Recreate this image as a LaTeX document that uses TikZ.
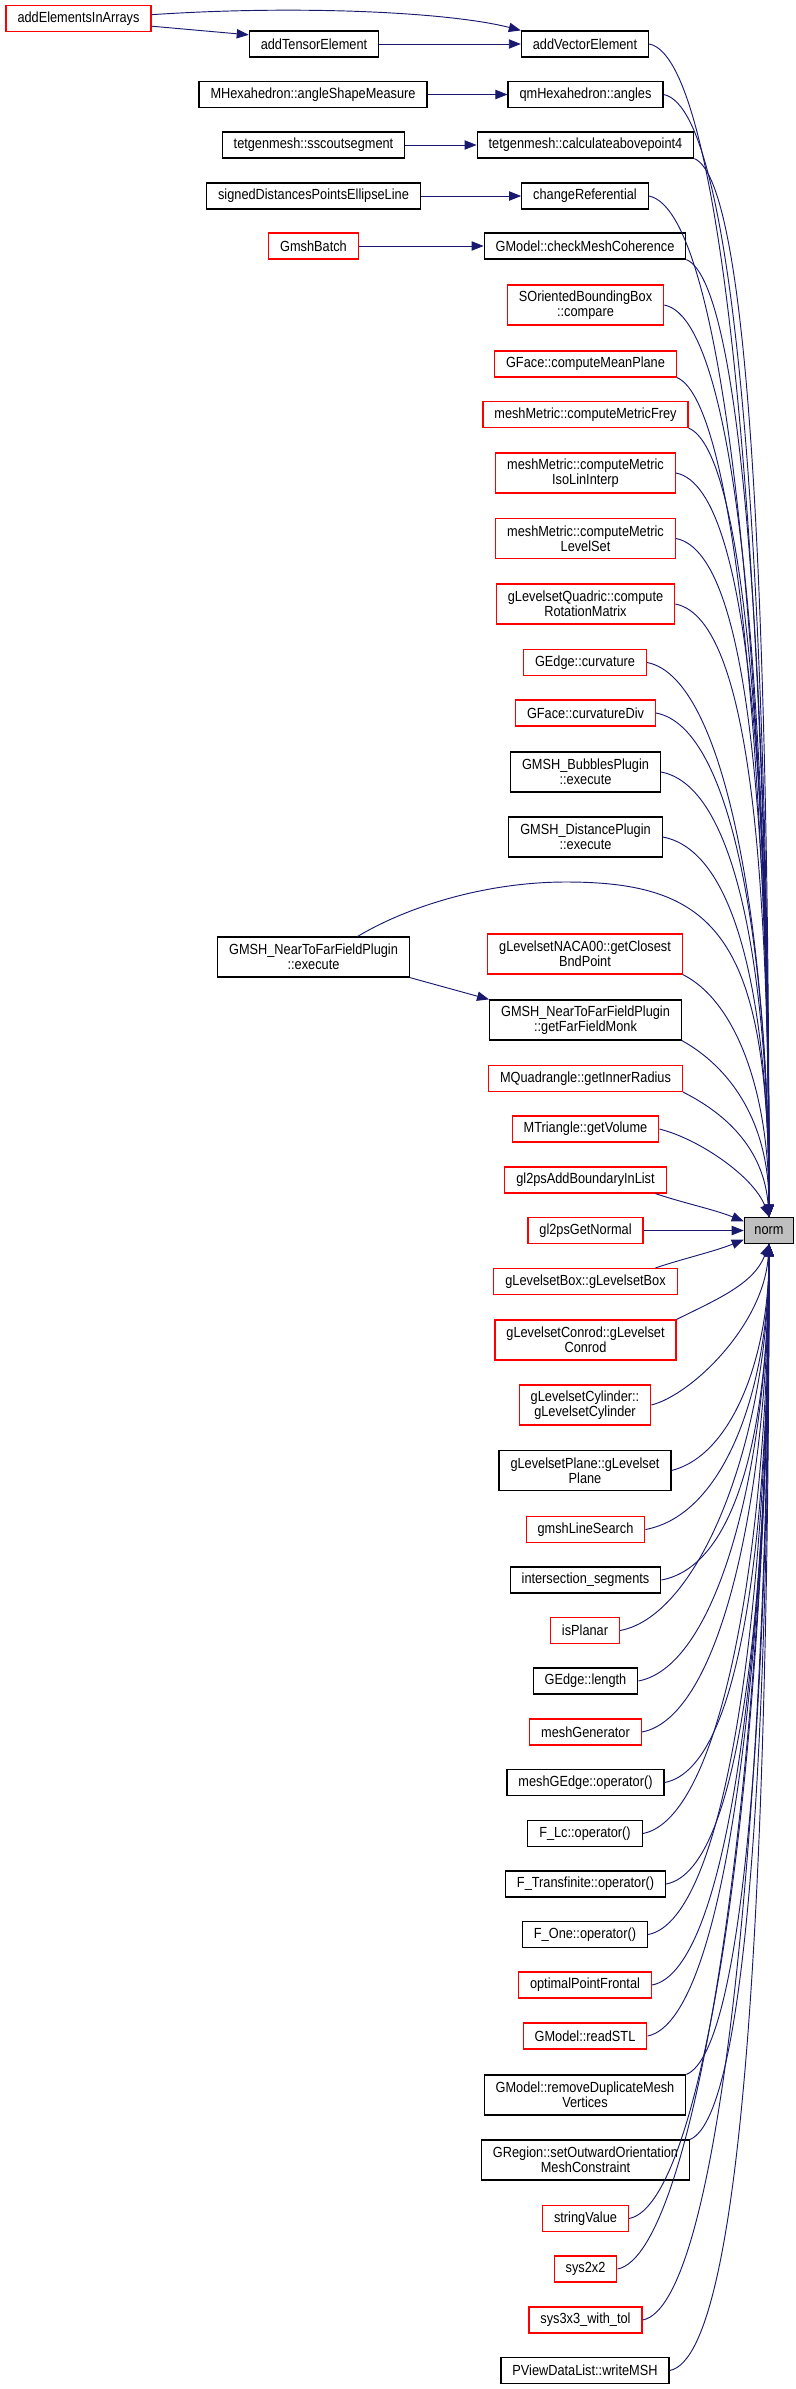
\documentclass[tikz,border=0pt]{standalone}
\usepackage{fontspec}
\setmainfont{Liberation Sans}[FakeStretch=0.87]
\usetikzlibrary{arrows.meta}
\definecolor{edgeblue}{RGB}{25,25,112}
\definecolor{normgray}{RGB}{191,191,191}
\begin{document}
\begin{tikzpicture}[x=0.75pt,y=-0.75pt,>={Triangle[length=9pt,width=7pt]},
  font=\fontsize{11}{11}\selectfont,
  callerbox/.style={draw=black,line width=0.9pt,rectangle,inner xsep=8.6pt,inner ysep=2pt,minimum height=19.5pt,align=center},
  redbox/.style={callerbox,draw=red},
  twol/.style={minimum height=30pt},
  callarrow/.style={->,draw=edgeblue,line width=0.7pt}]
\useasboundingbox (0,0) rectangle (796,2389);

\node[redbox] (aeia) at (78.5,18.5) {addElementsInArrays};
\node[callerbox] (ate) at (314,44) {addTensorElement};
\node[callerbox] (ave) at (585,44) {addVectorElement};
\node[callerbox] (asm) at (313,94.5) {MHexahedron::angleShapeMeasure};
\node[callerbox] (qang) at (585.5,94.5) {qmHexahedron::angles};
\node[callerbox] (sscout) at (313.5,145) {tetgenmesh::sscoutsegment};
\node[callerbox] (calcabove) at (585.5,145) {tetgenmesh::calculateabovepoint4};
\node[callerbox] (sdpel) at (313.5,196) {signedDistancesPointsEllipseLine};
\node[callerbox] (chref) at (585,196) {changeReferential};
\node[redbox] (gbatch) at (313.5,246) {GmshBatch};
\node[callerbox] (chkmc) at (585,246) {GModel::checkMeshCoherence};
\node[redbox,twol] (sobb) at (585.5,305) {SOrientedBoundingBox\\::compare};
\node[redbox] (cmp) at (585.5,364) {GFace::computeMeanPlane};
\node[redbox] (cmf) at (585.5,414.5) {meshMetric::computeMetricFrey};
\node[redbox,twol] (cmili) at (585.5,473) {meshMetric::computeMetric\\IsoLinInterp};
\node[redbox,twol] (cmls) at (585.5,538.5) {meshMetric::computeMetric\\LevelSet};
\node[redbox,twol] (crm) at (585.5,604) {gLevelsetQuadric::compute\\RotationMatrix};
\node[redbox] (gecurv) at (585,662.5) {GEdge::curvature};
\node[redbox] (gfcdiv) at (585.5,713) {GFace::curvatureDiv};
\node[callerbox,twol] (bubbles) at (585.5,772) {GMSH\_BubblesPlugin\\::execute};
\node[callerbox,twol] (distpl) at (585.5,837) {GMSH\_DistancePlugin\\::execute};
\node[callerbox,twol] (nfe) at (313.5,957) {GMSH\_NearToFarFieldPlugin\\::execute};
\node[redbox,twol] (naca) at (585,954) {gLevelsetNACA00::getClosest\\BndPoint};
\node[callerbox,twol] (gffm) at (585.5,1020) {GMSH\_NearToFarFieldPlugin\\::getFarFieldMonk};
\node[redbox] (mqir) at (585.5,1078.5) {MQuadrangle::getInnerRadius};
\node[redbox] (mtgv) at (585.5,1129) {MTriangle::getVolume};
\node[redbox] (gl2abl) at (585.5,1180) {gl2psAddBoundaryInList};
\node[redbox] (gl2gn) at (585.5,1230.5) {gl2psGetNormal};
\node[callerbox,fill=normgray,minimum width=37pt,inner xsep=4pt] (norm) at (769,1230.5) {norm};
\node[redbox] (glbox) at (585.5,1281.5) {gLevelsetBox::gLevelsetBox};
\node[redbox,twol] (glconrod) at (585.5,1340) {gLevelsetConrod::gLevelset\\Conrod};
\node[redbox,twol] (glcyl) at (585,1405) {gLevelsetCylinder::\\gLevelsetCylinder};
\node[callerbox,twol] (glplane) at (585,1470.5) {gLevelsetPlane::gLevelset\\Plane};
\node[redbox] (lsearch) at (585.5,1529.5) {gmshLineSearch};
\node[callerbox] (isect) at (585.5,1580) {intersection\_segments};
\node[redbox] (isplanar) at (585,1630.5) {isPlanar};
\node[callerbox] (gelen) at (585.5,1681) {GEdge::length};
\node[redbox] (meshgen) at (585.5,1732) {meshGenerator};
\node[callerbox] (mgeop) at (585.5,1782.5) {meshGEdge::operator()};
\node[callerbox] (flc) at (585,1833.5) {F\_Lc::operator()};
\node[callerbox] (ftrans) at (585.5,1884) {F\_Transfinite::operator()};
\node[callerbox] (fone) at (585,1934.5) {F\_One::operator()};
\node[redbox] (optpf) at (585,1985) {optimalPointFrontal};
\node[redbox] (readstl) at (585,2036) {GModel::readSTL};
\node[callerbox,twol] (rmdup) at (585,2095) {GModel::removeDuplicateMesh\\Vertices};
\node[callerbox,twol] (setout) at (585.5,2160) {GRegion::setOutwardOrientation\\MeshConstraint};
\node[redbox] (strval) at (585.5,2218.5) {stringValue};
\node[redbox] (sys22) at (585.5,2269) {sys2x2};
\node[redbox] (sys33) at (585.5,2320) {sys3x3\_with\_tol};
\node[callerbox] (wmsh) at (585,2370.5) {PViewDataList::writeMSH};

\draw[callarrow] (aeia.3) .. controls +(150,-10) and +(-70,-18) .. (ave.north west);
\draw[callarrow] (aeia.-6) -- (ate.172);
\draw[callarrow] (ate) -- (ave);
\draw[callarrow] (asm) -- (qang);
\draw[callarrow] (sscout) -- (calcabove);
\draw[callarrow] (sdpel) -- (chref);
\draw[callarrow] (gbatch) -- (chkmc);
\draw[callarrow] (nfe.south east) -- (gffm.north west);

\draw[callarrow] (ave.east) .. controls +(80,15) and +(0,-587) .. (norm.north);
\draw[callarrow] (qang.east) .. controls +(80,15) and +(0,-562) .. (norm.north);
\draw[callarrow] (calcabove.south east) .. controls +(60,25) and +(0,-537) .. (norm.north);
\draw[callarrow] (chref.east) .. controls +(80,15) and +(0,-511) .. (norm.north);
\draw[callarrow] (chkmc.south east) .. controls +(60,25) and +(0,-486) .. (norm.north);
\draw[callarrow] (sobb.east) .. controls +(80,15) and +(0,-456) .. (norm.north);
\draw[callarrow] (cmp.south east) .. controls +(60,25) and +(0,-427) .. (norm.north);
\draw[callarrow] (cmf.south east) .. controls +(60,25) and +(0,-402) .. (norm.north);
\draw[callarrow] (cmili.east) .. controls +(80,15) and +(0,-372) .. (norm.north);
\draw[callarrow] (cmls.east) .. controls +(80,15) and +(0,-340) .. (norm.north);
\draw[callarrow] (crm.east) .. controls +(80,15) and +(0,-307) .. (norm.north);
\draw[callarrow] (gecurv.east) .. controls +(80,15) and +(0,-278) .. (norm.north);
\draw[callarrow] (gfcdiv.east) .. controls +(80,15) and +(0,-252) .. (norm.north);
\draw[callarrow] (bubbles.east) .. controls +(80,15) and +(0,-223) .. (norm.north);
\draw[callarrow] (distpl.east) .. controls +(80,15) and +(0,-190) .. (norm.north);
\coordinate (nfpeak) at (566,882);
\draw[callarrow] (nfe.25) .. controls +(50,-30) and +(-80,0) .. (nfpeak) .. controls +(150,0) and +(0,-280) .. (norm.north);
\draw[callarrow] (naca.south east) .. controls +(50,25) and +(0,-132) .. (norm.north);
\draw[callarrow] (gffm.south east) .. controls +(45,25) and +(0,-99) .. (norm.north);
\draw[callarrow] (mqir.south east) .. controls +(40,20) and +(-5,-70) .. (norm.north);
\draw[callarrow] (mtgv.east) .. controls +(40,10) and +(-15,-40) .. (norm.north);
\draw[callarrow] (gl2abl.-11) .. controls +(30,10) and +(-30,-12) .. (norm.160);
\draw[callarrow] (gl2gn) -- (norm);
\draw[callarrow] (glbox.11) .. controls +(30,-10) and +(-30,12) .. (norm.200);
\draw[callarrow] (glconrod.north east) .. controls +(40,-20) and +(-15,40) .. (norm.south);
\draw[callarrow] (glcyl.east) .. controls +(40,-10) and +(-5,81) .. (norm.south);
\draw[callarrow] (glplane.east) .. controls +(60,-15) and +(0,114) .. (norm.south);
\draw[callarrow] (lsearch.east) .. controls +(80,-15) and +(0,143) .. (norm.south);
\draw[callarrow] (isect.east) .. controls +(80,-15) and +(0,168) .. (norm.south);
\draw[callarrow] (isplanar.east) .. controls +(80,-15) and +(0,194) .. (norm.south);
\draw[callarrow] (gelen.east) .. controls +(80,-15) and +(0,219) .. (norm.south);
\draw[callarrow] (meshgen.east) .. controls +(80,-15) and +(0,245) .. (norm.south);
\draw[callarrow] (mgeop.east) .. controls +(80,-15) and +(0,270) .. (norm.south);
\draw[callarrow] (flc.east) .. controls +(80,-15) and +(0,295) .. (norm.south);
\draw[callarrow] (ftrans.east) .. controls +(80,-15) and +(0,320) .. (norm.south);
\draw[callarrow] (fone.east) .. controls +(80,-15) and +(0,346) .. (norm.south);
\draw[callarrow] (optpf.east) .. controls +(80,-15) and +(0,371) .. (norm.south);
\draw[callarrow] (readstl.east) .. controls +(80,-15) and +(0,396) .. (norm.south);
\draw[callarrow] (rmdup.north east) .. controls +(60,-25) and +(0,426) .. (norm.south);
\draw[callarrow] (setout.north east) .. controls +(60,-25) and +(0,458) .. (norm.south);
\draw[callarrow] (strval.east) .. controls +(80,-15) and +(0,488) .. (norm.south);
\draw[callarrow] (sys22.east) .. controls +(80,-15) and +(0,513) .. (norm.south);
\draw[callarrow] (sys33.east) .. controls +(80,-15) and +(0,538) .. (norm.south);
\draw[callarrow] (wmsh.east) .. controls +(80,-15) and +(0,564) .. (norm.south);
\end{tikzpicture}
\end{document}
